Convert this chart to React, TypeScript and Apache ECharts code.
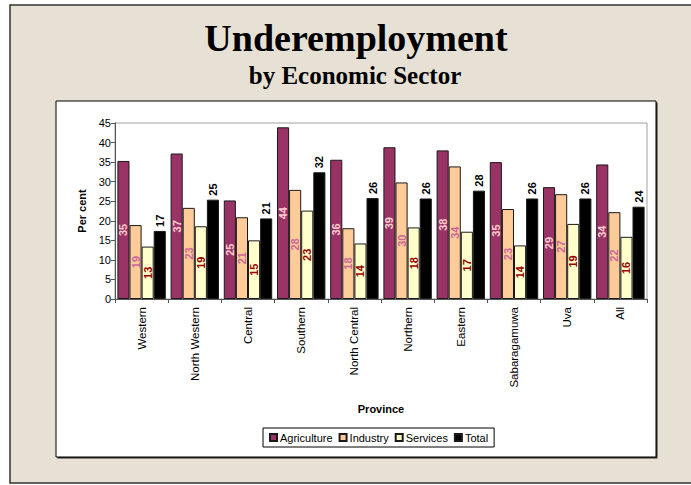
import React, { useEffect, useRef } from "react";
import * as echarts from "echarts";

const provinces = ["Western", "North Western", "Central", "Southern", "North Central", "Northern", "Eastern", "Sabaragamuwa", "Uva", "All"];
const agriculture = [35.3, 37.2, 25.2, 43.9, 35.6, 38.8, 38.0, 35.0, 28.6, 34.4];
const industry = [18.9, 23.3, 20.9, 27.9, 18.1, 29.8, 33.9, 23.0, 26.8, 22.2];
const services = [13.4, 18.6, 15.0, 22.6, 14.2, 18.3, 17.2, 13.7, 19.2, 15.9];
const total = [17.4, 25.4, 20.6, 32.4, 25.8, 25.7, 27.7, 25.7, 25.7, 23.6];

const titleText = "Underemployment";
const subtitleText = "by Economic Sector";

export default function App() {
  const ref = useRef<HTMLDivElement>(null);
  useEffect(() => {
    if (!ref.current) return;
    const chart = echarts.init(ref.current, undefined, { renderer: "svg" });
    const fmt = (p: any) => String(Math.round(p.value));
    const bar = (name: string, data: number[], color: string, label: any) => ({
      name,
      type: "bar",
      data,
      barGap: "0%",
      barCategoryGap: "9%",
      itemStyle: { color, borderColor: "#1a1a1a", borderWidth: 1 },
      label: {
        show: true,
        rotate: 90,
        formatter: fmt,
        fontFamily: "Arial, Liberation Sans, sans-serif",
        fontSize: 11,
        fontWeight: "bold",
        ...label,
      },
    });
    chart.setOption({
      animation: false,
      backgroundColor: "#ffffff",
      graphic: [
        { type: "rect", z: -10, shape: { x: 10, y: 5, width: 700, height: 478 }, style: { fill: "#e7e1d5", stroke: "#333", lineWidth: 1.5 } },
        { type: "rect", z: -9, shape: { x: 57.5, y: 102.5, width: 600, height: 356 }, style: { fill: "#2a2a2a" } },
        { type: "rect", z: -8, shape: { x: 56, y: 101, width: 600, height: 356 }, style: { fill: "#ffffff", stroke: "#000", lineWidth: 1 } },
        { type: "text", z: 10, x: 356, y: 38, style: { text: titleText, font: "bold 38px 'Liberation Serif', 'Times New Roman', serif", fill: "#000", textAlign: "center", textVerticalAlign: "middle" } },
        { type: "text", z: 10, x: 355, y: 75, style: { text: subtitleText, font: "bold 25px 'Liberation Serif', 'Times New Roman', serif", fill: "#000", textAlign: "center", textVerticalAlign: "middle" } },
      ],
      grid: { left: 115, top: 123, right: 44, bottom: 186, show: true, borderColor: "#a0a0a0", borderWidth: 1, backgroundColor: "transparent" },
      legend: {
        left: 263,
        top: 428,
        orient: "horizontal",
        icon: "rect",
        itemWidth: 7,
        itemHeight: 7,
        itemGap: 6,
        padding: [4, 6],
        borderColor: "#000",
        borderWidth: 1,
        backgroundColor: "#fff",
        textStyle: { fontFamily: "Arial, Liberation Sans, sans-serif", fontSize: 11, color: "#000", padding: [0, 0, 0, -2] },
        data: ["Agriculture", "Industry", "Services", "Total"],
      },
      xAxis: {
        type: "category",
        data: provinces,
        name: "Province",
        nameLocation: "middle",
        nameGap: 104,
        nameTextStyle: { fontFamily: "Arial, Liberation Sans, sans-serif", fontSize: 11, fontWeight: "bold", color: "#000" },
        axisLine: { lineStyle: { color: "#555", width: 1 } },
        axisTick: { show: true, length: 4, lineStyle: { color: "#555" } },
        axisLabel: { rotate: 90, margin: 8, fontFamily: "Arial, Liberation Sans, sans-serif", fontSize: 11.5, color: "#000" },
      },
      yAxis: {
        type: "value",
        min: 0,
        max: 45,
        interval: 5,
        name: "Per cent",
        nameLocation: "middle",
        nameGap: 28,
        nameRotate: 90,
        nameTextStyle: { fontFamily: "Arial, Liberation Sans, sans-serif", fontSize: 11, fontWeight: "bold", color: "#000" },
        axisLine: { show: true, lineStyle: { color: "#555", width: 1 } },
        axisTick: { show: true, length: 4, lineStyle: { color: "#555" } },
        axisLabel: { margin: 4, fontFamily: "Arial, Liberation Sans, sans-serif", fontSize: 11, color: "#000" },
        splitLine: { show: false },
      },
      series: [
        bar("Agriculture", agriculture, "#993366", { position: "inside", color: "#ffcccc" }),
        bar("Industry", industry, "#ffcc99", { position: "inside", color: "#cc6699" }),
        bar("Services", services, "#ffffcc", { position: "inside", color: "#990000" }),
        bar("Total", total, "#000000", { position: "top", color: "#000", align: "left", verticalAlign: "middle", distance: 4 }),
      ],
    });
    return () => chart.dispose();
  }, []);
  return <div ref={ref} style={{ position: "fixed", left: 0, top: 0, width: 691, height: 485 }} />;
}
